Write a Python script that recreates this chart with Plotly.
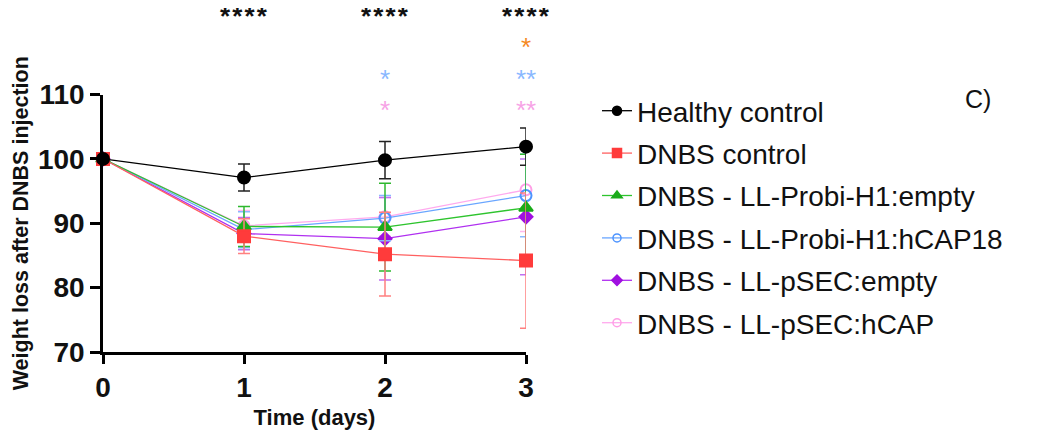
import plotly.graph_objects as go

# ---- data ----
days = [0, 1, 2, 3]
series_names = [
    "Healthy control",
    "DNBS control",
    "DNBS - LL-Probi-H1:empty",
    "DNBS - LL-Probi-H1:hCAP18",
    "DNBS - LL-pSEC:empty",
    "DNBS - LL-pSEC:hCAP",
]
healthy = [100, 97.1, 99.8, 101.9]
healthy_sd = [0, 2.1, 2.9, 2.9]
dnbs = [100, 88.0, 85.2, 84.2]
dnbs_sd = [0, 2.7, 6.5, 10.5]
probi_empty = [100, 89.5, 89.4, 92.4]
probi_empty_sd = [0, 3.1, 6.8, 8.3]
probi_hcap = [100, 89.0, 90.8, 94.3]
probi_hcap_sd = [0, 2.8, 3.5, 6.4]
psec_empty = [100, 88.4, 87.6, 91.0]
psec_empty_sd = [0, 2.5, 6.4, 9.0]
psec_hcap = [100, 89.6, 91.0, 95.2]
psec_hcap_sd = [0, 2.4, 3.0, 6.5]

y_ticks = [70, 80, 90, 100, 110]
x_ticks = [0, 1, 2, 3]

# significance marks: (day, number of stars, row)
sig_marks = [
    (1, 4, "black"), (2, 4, "black"), (3, 4, "black"),
    (3, 1, "orange"),
    (2, 1, "blue"), (3, 2, "blue"),
    (2, 1, "pink"), (3, 2, "pink"),
]

# ---- styles ----
FONT = "Liberation Sans, Arial, sans-serif"
styles = [
    dict(color="#000000", line="#000000", err="#222222", symbol="circle", size=12, lsize=9),
    dict(color="#ff3b3b", line="#ff6060", err="#ff8080", symbol="square", size=12, lsize=9),
    dict(color="#1aab1a", line="#2ec42e", err="#2eb82e", symbol="triangle-up", size=12, lsize=9),
    dict(color="#4d94ff", line="#6aa6ff", err="#88b8ff", symbol="circle-open", size=11, lsize=8),
    dict(color="#a010e0", line="#b030f0", err="#c070f0", symbol="diamond", size=10, lsize=8),
    dict(color="#ff9ee6", line="#ffaaee", err="#ffb8ee", symbol="circle-open", size=11, lsize=8),
]
values = [healthy, dnbs, probi_empty, probi_hcap, psec_empty, psec_hcap]
sds = [healthy_sd, dnbs_sd, probi_empty_sd, probi_hcap_sd, psec_empty_sd, psec_hcap_sd]

fig = go.Figure()
# data traces, drawn in reverse so healthy ends on top
for i in [5, 4, 3, 2, 1, 0]:
    st = styles[i]
    fig.add_trace(go.Scatter(
        x=days, y=values[i], name=series_names[i], showlegend=False,
        mode="lines+markers", cliponaxis=False,
        line=dict(color=st["line"], width=1.3),
        marker=dict(color=st["color"], symbol=st["symbol"], size=st["size"],
                    line=dict(color=st["color"], width=2)),
        error_y=dict(type="data", array=sds[i], visible=True, color=st["err"],
                     thickness=1.5, width=6),
    ))
# legend entries (smaller symbols, like the reference key)
for i in range(6):
    st = styles[i]
    fig.add_trace(go.Scatter(
        x=[None], y=[None], name=series_names[i], legendgroup=f"g{i}",
        legendrank=i + 1, mode="lines+markers",
        line=dict(color=st["line"], width=1.3),
        marker=dict(color=st["color"], symbol=st["symbol"], size=st["lsize"],
                    line=dict(color=st["color"], width=1.5)),
    ))

# ---- layout geometry ----
# the page body has an 8px margin, so the figure is 8px smaller and all
# target positions (taken in window pixels) are shifted by 8px.
OFF = 8
W, H = 1044 - OFF, 430 - OFF
ax_left, ax_right = 103 - OFF, 526 - OFF      # x = 0 and x = 3
ax_top, ax_bottom = 94.5 - OFF, 352 - OFF     # y = 110 and y = 70
mt, mb = 10, 10
ml, mr = ax_left, W - ax_right
gh = H - mt - mb
pw = ax_right - ax_left
y_dom = [(H - mb - ax_bottom) / gh, (H - mb - ax_top) / gh]


def py(p):  # window pixel y -> paper y
    return (H - mb - (p - OFF)) / gh


def px(p):  # window pixel x -> paper x
    return (p - OFF - ml) / pw


STAR = 26
row_y = {"black": 13, "orange": 44, "blue": 76, "pink": 107}
row_color = {"black": "#111111", "orange": "#f5891f", "blue": "#8ab8ff", "pink": "#f7a3e6"}
annotations = []
for d, n, row in sig_marks:
    txt = "\u200a".join(["*"] * n) if row == "black" else "*" * n
    annotations.append(dict(
        x=d, xref="x", y=py(row_y[row]), yref="paper", text=txt, showarrow=False,
        xanchor="center", yanchor="middle", yshift=-0.1 * STAR, borderpad=0,
        font=dict(family=FONT, size=STAR, color=row_color[row],
                  weight=700 if row == "black" else 400),
    ))
annotations.append(dict(
    x=px(978), xref="paper", y=py(99), yref="paper", text="C)",
    showarrow=False, xanchor="center", yanchor="middle",
    font=dict(family=FONT, size=25, color="#111111"),
))

fig.update_layout(
    width=W, height=H,
    margin=dict(l=ml, r=mr, t=mt, b=mb, pad=0, autoexpand=False),
    paper_bgcolor="white", plot_bgcolor="white",
    font=dict(family=FONT, color="#000000"),
    showlegend=True,
    legend=dict(
        xref="container", yref="container",
        x=(597 - OFF) / W, xanchor="left",
        y=(H - (86 - OFF)) / H, yanchor="top",
        maxheight=400,
        font=dict(family=FONT, size=28, color="#111111"),
        tracegroupgap=3, itemwidth=30, bgcolor="rgba(0,0,0,0)",
        traceorder="grouped",
    ),
    annotations=annotations,
    xaxis=dict(
        range=[0, 3], tickvals=x_ticks, ticktext=[str(t) for t in x_ticks],
        automargin=False, anchor="y",
        showline=True, linecolor="#000000", linewidth=2.5, mirror=False,
        ticks="outside", ticklen=9, tickwidth=2.5, tickcolor="#000000",
        showgrid=False, zeroline=False,
        tickfont=dict(family=FONT, size=28, weight=700, color="#111111"),
        title=dict(text="Time (days)", standoff=8,
                   font=dict(family=FONT, size=22, weight=700, color="#111111")),
    ),
    yaxis=dict(
        range=[70, 110], tickvals=y_ticks, ticktext=[str(t) for t in y_ticks],
        automargin=False, domain=y_dom,
        showline=True, linecolor="#000000", linewidth=2.5,
        ticks="outside", ticklen=10, tickwidth=2.5, tickcolor="#000000",
        showgrid=False, zeroline=False,
        tickfont=dict(family=FONT, size=28, weight=700, color="#111111"),
        title=dict(text="Weight loss after DNBS injection", standoff=4,
                   font=dict(family=FONT, size=21.5, weight=700, color="#111111")),
    ),
)

fig.write_html("out.html")
